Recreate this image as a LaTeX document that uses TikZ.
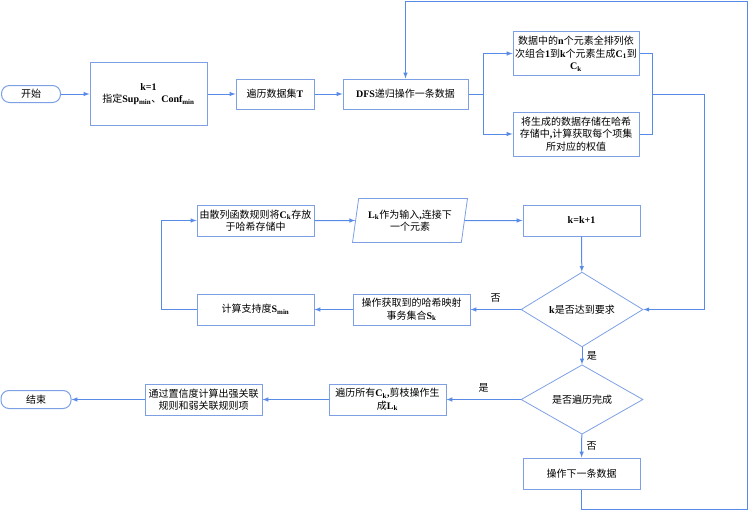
\documentclass[tikz,border=0pt]{standalone}
\usepackage{fontspec}
\setmainfont{Noto Sans CJK SC}
\newfontfamily\latfont{Liberation Serif}
\usepackage{tikz}
\usetikzlibrary{shapes.geometric}
\definecolor{lineblue}{RGB}{88,138,232}
\definecolor{boxblue}{RGB}{125,160,228}
\newcommand{\lat}[1]{{\latfont\bfseries #1}}
\newcommand{\lsub}[1]{\textsubscript{\latfont\bfseries #1}}

\begin{document}
\begin{tikzpicture}[x=1pt,y=-1pt,
    font=\fontsize{10}{12.5}\selectfont,
    box/.style={draw=boxblue, line width=1pt, align=center, inner sep=1pt,
      minimum width=117pt, minimum height=31pt},
    term/.style={draw=boxblue, line width=1pt, rounded corners=8pt,
      minimum width=59pt, minimum height=17pt, inner sep=0pt},
    decision/.style={draw=boxblue, line width=0.8pt, diamond, inner sep=0pt,
      minimum width=122pt, minimum height=61pt},
    para/.style={draw=boxblue, line width=0.8pt, trapezium, trapezium stretches=true,
      trapezium left angle=77, trapezium right angle=103, align=center, inner sep=0pt,
      minimum width=116pt, minimum height=44pt},
    link/.style={draw=lineblue, line width=1pt},
    line/.style={link, -latex}]
      \useasboundingbox (0,0) rectangle (749,511);

      %% top row
      \node [term] (start) at (31,94) {开始};
      \node [box, minimum height=62pt] (init) at (148.5,94)
        {\lat{k=1}\\指定\lat{Sup}\lsub{min}、\lat{Conf}\lsub{min}};
      \node [box, minimum width=78pt, minimum height=30pt] (trav) at (275,94) {遍历数据集\lat{T}};
      \node [box, minimum width=125pt, minimum height=30pt] (dfs) at (405.5,94) {\lat{DFS}递归操作一条数据};
      \node [box, minimum width=126pt, minimum height=43pt] (gen) at (576,53.5)
        {数据中的\lat{n}个元素全排列依\\次组合\lat{1}到\lat{k}个元素生成\lat{C}\lsub{1}到\\\lat{C}\lsub{k}};
      \node [box, minimum width=126pt, minimum height=44pt] (store) at (576,134)
        {将生成的数据存储在哈希\\存储中\lat{,}计算获取每个项集\\所对应的权值};

      %% middle rows
      \node [box] (hashput) at (255.5,220.5) {由散列函数规则将\lat{C}\lsub{k}存放\\于哈希存储中};
      \node [para] (linput) at (410,220.5) {\lat{L}\lsub{k}作为输入\lat{,}连接下\\一个元素};
      \node [box] (kinc) at (581.5,220.5) {\lat{k=k+1}};
      \node [decision] (judge) at (582,309.5) {\lat{k}是否达到要求};
      \node [box] (getS) at (411.5,309.5) {操作获取到的哈希映射\\事务集合\lat{S}\lsub{k}};
      \node [box] (supp) at (255.5,309.5) {计算支持度\lat{S}\lsub{min}};

      %% bottom rows
      \node [decision] (check) at (582,399.5) {是否遍历完成};
      \node [box] (prune) at (387.5,399.5) {遍历所有\lat{C}\lsub{k}\lat{,}剪枝操作生\\成\lat{L}\lsub{k}};
      \node [box] (conf) at (203.5,399.5) {通过置信度计算出强关联\\规则和弱关联规则项};
      \node [term, minimum width=70pt, minimum height=18pt] (finish) at (36,399.5) {结束};
      \node [box] (nextd) at (581.5,473.5) {操作下一条数据};

      \coordinate (fork) at (483,94);
      \coordinate (merge) at (652,94);
      \coordinate (rside) at (704,94);
      \coordinate (back) at (161,309.5);
      \coordinate (bottom) at (581.5,509);
      \coordinate (rtop) at (747,2);

      \draw [line] (start) -- (init);
      \draw [line] (init) -- (trav);
      \draw [line] (trav) -- (dfs);
      \draw [link] (dfs) -- (fork);
      \draw [line] (fork) |- (gen);
      \draw [line] (fork) |- (store);
      \draw [link] (gen) -| (merge);
      \draw [link] (store) -| (merge);
      \draw [line] (merge) -- (rside) |- (judge);

      \draw [line] (hashput) -- (linput);
      \draw [line] (linput) -- (kinc);
      \draw [line] (kinc) -- (judge);
      \draw [line] (judge) -- node[above=3pt]{否} (getS);
      \draw [line] (getS) -- (supp);
      \draw [line] (supp) -- (back) |- (hashput);

      \draw [line] (judge) -- node[right=1pt]{是} (check);
      \draw [line] (check) -- node[above=3pt]{是} (prune);
      \draw [line] (prune) -- (conf);
      \draw [line] (conf) -- (finish);
      \draw [line] (check) -- node[right=1pt]{否} (nextd);
      \draw [line] (nextd) -- (bottom) -| (rtop) -| (dfs);
\end{tikzpicture}
\end{document}
